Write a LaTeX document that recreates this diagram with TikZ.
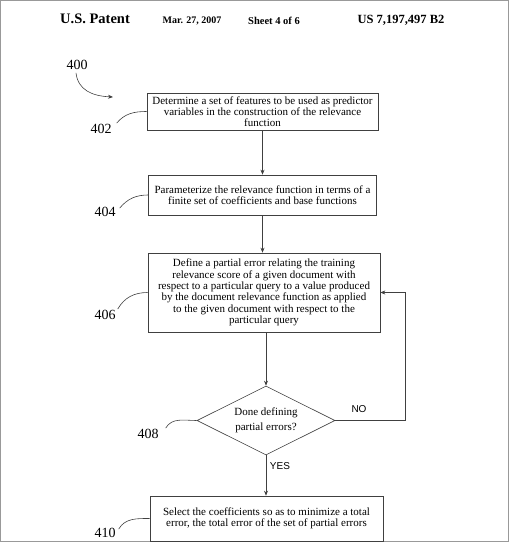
\documentclass[tikz,border=0pt]{standalone}
\usepackage{fontspec}
\setmainfont{Liberation Serif}
\setsansfont{Liberation Sans}
\usetikzlibrary{shapes.geometric,arrows.meta,calc}
\tikzset{
  line/.style={draw=black!75, line width=0.6pt},
  arr/.style={line, -{Stealth[length=5pt,width=4pt]}},
  procbox/.style={line, rectangle, align=center, inner sep=2pt,
     font=\fontsize{11}{11.3}\selectfont},
  decision/.style={line, diamond, inner sep=0pt},
  dectext/.style={align=center, inner sep=0pt, font=\fontsize{11}{15}\selectfont},
  reflabel/.style={inner sep=1pt, font=\fontsize{14}{14}\selectfont},
  hdr/.style={inner sep=0pt, font=\bfseries},
  yesno/.style={inner sep=0pt, font=\sffamily\fontsize{10}{10}\selectfont},
}
\begin{document}
\begin{tikzpicture}[x=1pt,y=-1pt]
\useasboundingbox (0,0) rectangle (510,543);
\draw[gray!80, line width=1.2pt] (0.6,0.6) rectangle (508.6,541.6);

% header
\node[hdr, font=\bfseries\fontsize{14.5}{14.5}\selectfont] (h1) at (95,19) {U.S. Patent};
\node[hdr, font=\bfseries\fontsize{10}{10}\selectfont] (h2) at (192,21) {Mar. 27, 2007};
\node[hdr, font=\bfseries\fontsize{10.5}{10.5}\selectfont] (h3) at (274,21) {Sheet 4 of 6};
\node[hdr, font=\bfseries\fontsize{12.5}{12.5}\selectfont] (h4) at (401,20) {US 7,197,497 B2};

% boxes
\node[procbox, minimum width=231, minimum height=37] (b402) at (262.5,111.5)
  {Determine a set of features to be used as predictor\\variables in the construction of the relevance\\function};
\node[procbox, minimum width=228, minimum height=40] (b404) at (262.5,195)
  {Parameterize the relevance function in terms of a\\finite set of coefficients and base functions};
\node[procbox, minimum width=232, minimum height=79] (b406) at (264,292.5)
  {Define a partial error relating the training\\relevance score of a given document with\\respect to a particular query to a value produced\\by the document relevance function as applied\\to the given document with respect to the\\particular query};
\node[decision, minimum width=138, minimum height=69] (d408) at (266,420.5) {};
\node[dectext] (t408) at (d408.center) {Done defining\\partial errors?};
\node[procbox, minimum width=233, minimum height=45] (b410) at (266.5,518.5)
  {Select the coefficients so as to minimize a total\\error, the total error of the set of partial errors};

% reference labels
\node[reflabel] (l400) at (77,65) {400};
\node[reflabel] (l402) at (101,129) {402};
\node[reflabel] (l404) at (105,212) {404};
\node[reflabel] (l406) at (105,315) {406};
\node[reflabel] (l408) at (148,434) {408};
\node[reflabel] (l410) at (105,533) {410};

\coordinate (a400) at (113,97);
\draw[arr] ($(l400.south)+(-1,2)$) .. controls (78,90) and (92,96) .. (a400);

\draw[line] ($(l402.north east)+(4,0)$) to[out=50,in=180] (b402.west);
\draw[line] ($(l404.north east)+(3,2)$) to[out=50,in=180] (b404.west);
\draw[line] ($(l406.north east)+(1,0)$) to[out=60,in=180] (b406.west);
\draw[line] ($(l408.north east)+(6,0)$) to[out=60,in=180] (d408.west);
\draw[line] ($(l410.north east)+(2,2)$) to[out=60,in=180] (b410.west);

% flow
\draw[arr] (b402.south) -- (b402.south |- b404.north);
\draw[arr] (b404.south) -- (b404.south |- b406.north);
\draw[arr] (b406.south -| d408.north) -- (d408.north);
\draw[arr] (d408.south) -- (d408.south |- b410.north);
\coordinate (loop) at (405,420.5);
\draw[arr] (d408.east) -- (loop) |- (b406.east);

\node[yesno] (no) at (359,409) {NO};
\node[yesno] (yes) at (280,466) {YES};
\end{tikzpicture}
\end{document}
